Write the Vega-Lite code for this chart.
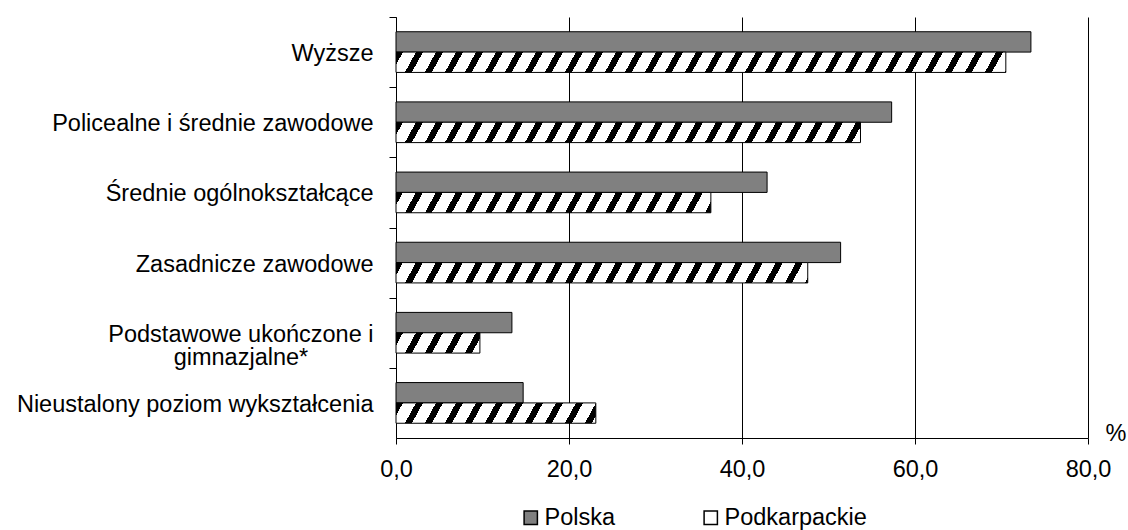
{
  "$schema": "https://vega.github.io/schema/vega-lite/v6.json",
  "autosize": {"type": "none"},
  "padding": {"left": 396, "top": 17, "right": 40, "bottom": 92},
  "width": 692,
  "height": 421,
  "background": "white",
  "config": {
    "font": "Liberation Sans",
    "view": {"stroke": null},
    "axis": {"labelFont": "Liberation Sans", "labelFontSize": 23.5, "labelColor": "black", "titleFont": "Liberation Sans", "titleColor": "black"},
    "legend": {"labelFont": "Liberation Sans", "labelFontSize": 23.5, "labelColor": "black"}
  },
  "params": [
    {"name": "hatch", "value": [
      {"offset":0,"color":"#000"},{"offset":0.0109,"color":"#000"},{"offset":0.0109,"color":"#fff"},{"offset":0.03125,"color":"#fff"},
      {"offset":0.03125,"color":"#000"},{"offset":0.04215,"color":"#000"},{"offset":0.04215,"color":"#fff"},{"offset":0.0625,"color":"#fff"},
      {"offset":0.0625,"color":"#000"},{"offset":0.0734,"color":"#000"},{"offset":0.0734,"color":"#fff"},{"offset":0.09375,"color":"#fff"},
      {"offset":0.09375,"color":"#000"},{"offset":0.10465,"color":"#000"},{"offset":0.10465,"color":"#fff"},{"offset":0.125,"color":"#fff"},
      {"offset":0.125,"color":"#000"},{"offset":0.1359,"color":"#000"},{"offset":0.1359,"color":"#fff"},{"offset":0.15625,"color":"#fff"},
      {"offset":0.15625,"color":"#000"},{"offset":0.16715,"color":"#000"},{"offset":0.16715,"color":"#fff"},{"offset":0.1875,"color":"#fff"},
      {"offset":0.1875,"color":"#000"},{"offset":0.1984,"color":"#000"},{"offset":0.1984,"color":"#fff"},{"offset":0.21875,"color":"#fff"},
      {"offset":0.21875,"color":"#000"},{"offset":0.22965,"color":"#000"},{"offset":0.22965,"color":"#fff"},{"offset":0.25,"color":"#fff"},
      {"offset":0.25,"color":"#000"},{"offset":0.2609,"color":"#000"},{"offset":0.2609,"color":"#fff"},{"offset":0.28125,"color":"#fff"},
      {"offset":0.28125,"color":"#000"},{"offset":0.29215,"color":"#000"},{"offset":0.29215,"color":"#fff"},{"offset":0.3125,"color":"#fff"},
      {"offset":0.3125,"color":"#000"},{"offset":0.3234,"color":"#000"},{"offset":0.3234,"color":"#fff"},{"offset":0.34375,"color":"#fff"},
      {"offset":0.34375,"color":"#000"},{"offset":0.35465,"color":"#000"},{"offset":0.35465,"color":"#fff"},{"offset":0.375,"color":"#fff"},
      {"offset":0.375,"color":"#000"},{"offset":0.3859,"color":"#000"},{"offset":0.3859,"color":"#fff"},{"offset":0.40625,"color":"#fff"},
      {"offset":0.40625,"color":"#000"},{"offset":0.41715,"color":"#000"},{"offset":0.41715,"color":"#fff"},{"offset":0.4375,"color":"#fff"},
      {"offset":0.4375,"color":"#000"},{"offset":0.4484,"color":"#000"},{"offset":0.4484,"color":"#fff"},{"offset":0.46875,"color":"#fff"},
      {"offset":0.46875,"color":"#000"},{"offset":0.47965,"color":"#000"},{"offset":0.47965,"color":"#fff"},{"offset":0.5,"color":"#fff"},
      {"offset":0.5,"color":"#000"},{"offset":0.5109,"color":"#000"},{"offset":0.5109,"color":"#fff"},{"offset":0.53125,"color":"#fff"},
      {"offset":0.53125,"color":"#000"},{"offset":0.54215,"color":"#000"},{"offset":0.54215,"color":"#fff"},{"offset":0.5625,"color":"#fff"},
      {"offset":0.5625,"color":"#000"},{"offset":0.5734,"color":"#000"},{"offset":0.5734,"color":"#fff"},{"offset":0.59375,"color":"#fff"},
      {"offset":0.59375,"color":"#000"},{"offset":0.60465,"color":"#000"},{"offset":0.60465,"color":"#fff"},{"offset":0.625,"color":"#fff"},
      {"offset":0.625,"color":"#000"},{"offset":0.6359,"color":"#000"},{"offset":0.6359,"color":"#fff"},{"offset":0.65625,"color":"#fff"},
      {"offset":0.65625,"color":"#000"},{"offset":0.66715,"color":"#000"},{"offset":0.66715,"color":"#fff"},{"offset":0.6875,"color":"#fff"},
      {"offset":0.6875,"color":"#000"},{"offset":0.6984,"color":"#000"},{"offset":0.6984,"color":"#fff"},{"offset":0.71875,"color":"#fff"},
      {"offset":0.71875,"color":"#000"},{"offset":0.72965,"color":"#000"},{"offset":0.72965,"color":"#fff"},{"offset":0.75,"color":"#fff"},
      {"offset":0.75,"color":"#000"},{"offset":0.7609,"color":"#000"},{"offset":0.7609,"color":"#fff"},{"offset":0.78125,"color":"#fff"},
      {"offset":0.78125,"color":"#000"},{"offset":0.79215,"color":"#000"},{"offset":0.79215,"color":"#fff"},{"offset":0.8125,"color":"#fff"},
      {"offset":0.8125,"color":"#000"},{"offset":0.8234,"color":"#000"},{"offset":0.8234,"color":"#fff"},{"offset":0.84375,"color":"#fff"},
      {"offset":0.84375,"color":"#000"},{"offset":0.85465,"color":"#000"},{"offset":0.85465,"color":"#fff"},{"offset":0.875,"color":"#fff"},
      {"offset":0.875,"color":"#000"},{"offset":0.8859,"color":"#000"},{"offset":0.8859,"color":"#fff"},{"offset":0.90625,"color":"#fff"},
      {"offset":0.90625,"color":"#000"},{"offset":0.91715,"color":"#000"},{"offset":0.91715,"color":"#fff"},{"offset":0.9375,"color":"#fff"},
      {"offset":0.9375,"color":"#000"},{"offset":0.9484,"color":"#000"},{"offset":0.9484,"color":"#fff"},{"offset":0.96875,"color":"#fff"},
      {"offset":0.96875,"color":"#000"},{"offset":0.97965,"color":"#000"},{"offset":0.97965,"color":"#fff"},{"offset":1,"color":"#fff"}
    ]}
  ],
  "data": {"values": [
    {"category": "Wyższe", "series": "Polska", "pct": 73.4},
    {"category": "Wyższe", "series": "Podkarpackie", "pct": 70.5},
    {"category": "Policealne i średnie zawodowe", "series": "Polska", "pct": 57.3},
    {"category": "Policealne i średnie zawodowe", "series": "Podkarpackie", "pct": 53.7},
    {"category": "Średnie ogólnokształcące", "series": "Polska", "pct": 42.9},
    {"category": "Średnie ogólnokształcące", "series": "Podkarpackie", "pct": 36.4},
    {"category": "Zasadnicze zawodowe", "series": "Polska", "pct": 51.4},
    {"category": "Zasadnicze zawodowe", "series": "Podkarpackie", "pct": 47.6},
    {"category": "Podstawowe ukończone i gimnazjalne*", "series": "Polska", "pct": 13.4},
    {"category": "Podstawowe ukończone i gimnazjalne*", "series": "Podkarpackie", "pct": 9.7},
    {"category": "Nieustalony poziom wykształcenia", "series": "Polska", "pct": 14.7},
    {"category": "Nieustalony poziom wykształcenia", "series": "Podkarpackie", "pct": 23.1}
  ]},
  "mark": {"type": "bar", "stroke": "black", "strokeWidth": 1},
  "encoding": {
    "y": {
      "field": "category", "type": "nominal", "sort": null,
      "scale": {"paddingInner": 0.42, "paddingOuter": 0.21},
      "axis": {
        "title": null, "domainColor": "black", "domainWidth": 1, "tickColor": "black", "tickSize": 7,
        "tickOffset": -35.08, "labelOffset": 36.6,
        "labelAlign": "right", "labelBaseline": "middle", "labelPadding": 16, "labelLineHeight": 23.5, "labelLimit": 0,
        "labelExpr": "datum.label == 'Podstawowe ukończone i gimnazjalne*' ? ['Podstawowe ukończone i', 'gimnazjalne*\u00a0\u00a0\u00a0\u00a0\u00a0\u00a0\u00a0\u00a0\u00a0\u00a0\u200b'] : datum.label"
      }
    },
    "yOffset": {"field": "series", "type": "nominal", "sort": ["Polska", "Podkarpackie"], "scale": {"paddingInner": 0, "paddingOuter": 0}},
    "x": {
      "field": "pct", "type": "quantitative",
      "scale": {"domain": [0, 80], "nice": false},
      "axis": {
        "values": [0, 20, 40, 60, 80], "grid": true, "gridColor": "black", "gridOpacity": 1, "gridWidth": 1,
        "domainColor": "black", "tickColor": "black", "tickSize": 6, "labelFlush": false,
        "labelBaseline": "alphabetic", "labelPadding": 32,
        "labelExpr": "replace(format(datum.value, '.1f'), '.', ',')",
        "title": "%", "titleX": 709, "titleY": 2, "titleAlign": "left", "titleBaseline": "alphabetic",
        "titleFontSize": 23.5, "titleFontWeight": "normal", "titleAngle": 0
      }
    },
    "fill": {
      "field": "series", "type": "nominal",
      "scale": {"domain": ["Polska", "Podkarpackie"], "range": ["#808080", "#ffffff"]},
      "legend": {
        "title": null, "orient": "none", "direction": "horizontal", "legendX": 123, "legendY": 488.6,
        "symbolType": "square", "symbolSize": 177, "symbolStrokeColor": "black", "symbolStrokeWidth": 1.5,
        "labelOffset": 2, "columnPadding": 83, "padding": 0
      },
      "condition": {
        "test": "datum.series === 'Podkarpackie'",
        "value": {"expr": "{gradient: 'linear', x1: 0, y1: 0, x2: 5536 * datum.pct / (74.8225 * datum.pct * datum.pct + 125.3), y2: 7163.2 / (74.8225 * datum.pct * datum.pct + 125.3), stops: hatch}"}
      }
    }
  }
}
